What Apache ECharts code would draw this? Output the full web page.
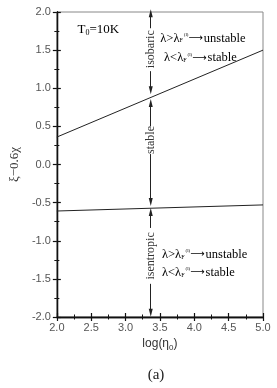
<!DOCTYPE html>
<html>
<head>
<meta charset="utf-8">
<script src="https://cdn.jsdelivr.net/npm/echarts@6/dist/echarts.min.js"></script>
<style>
html,body{margin:0;padding:0;background:#fff;}
#c{width:277px;height:388px;}
</style>
</head>
<body>
<div id="c"></div>
<script>
// ---- data ----
var xRange = [2.0, 5.0];
var yRange = [-2.0, 2.0];
var upperLine = [[2.0, 0.36], [5.0, 1.50]];
var lowerLine = [[2.0, -0.61], [5.0, -0.53]];
var arrowX = 3.366;
// arrow segments: [from (text-gap end), to (tip)]
var arrowSegments = [
  [1.787, 1.983], [1.224, 0.975],
  [0.504, 0.805], [0.137, -0.493],
  [-0.832, -0.622], [-1.565, -1.944]
];
var regionLabels = [['isobaric', 1.512], ['stable', 0.321], ['isentropic', -1.199]];
var lambdaLabels = [
  [3.505, 1.656, '>', 'unstable'],
  [3.56, 1.394, '<', 'stable'],
  [3.53, -1.185, '>', 'unstable'],
  [3.53, -1.42, '<', 'stable']
];
var tempLabel = [2.3, 1.77];

var chart = echarts.init(document.getElementById('c'));
var serif = '"Liberation Serif", "DejaVu Serif", serif';
var sans = '"Liberation Sans", Arial, sans-serif';

function axisCommon(inside, showLabel) {
  return {
    axisLine: {show: true, onZero: false, lineStyle: {color: '#111', width: 1.3}},
    axisTick: {show: true, inside: inside, length: 4, lineStyle: {color: '#111', width: 1.2}},
    minorTick: {show: true, splitNumber: 2, length: 2.5, lineStyle: {color: '#111', width: 1}},
    splitLine: {show: false},
    axisLabel: {show: showLabel}
  };
}

var xA0 = Object.assign(axisCommon(false, true), {
  type: 'value', min: xRange[0], max: xRange[1], interval: 0.5, position: 'bottom',
  name: '{m|log(η}{s|0}{m|)}', nameLocation: 'middle', nameGap: 19,
  nameTextStyle: {fontFamily: sans, fontSize: 12, color: '#333',
    rich: {m: {fontSize: 12, fontFamily: sans, color: '#333'},
           s: {fontSize: 8, fontFamily: sans, color: '#333', padding: [7,0,0,0]}}}
});
xA0.axisLabel = {show: true, formatter: function(v){return v.toFixed(1);}, fontFamily: sans, fontSize: 11, color: '#555', margin: 5};
var xA1 = Object.assign(axisCommon(true, false), {
  type: 'value', min: xRange[0], max: xRange[1], interval: 0.5, position: 'bottom'
});
var yA0 = Object.assign(axisCommon(false, true), {
  type: 'value', min: yRange[0], max: yRange[1], interval: 0.5, position: 'left',
  name: 'ξ−0.6χ', nameLocation: 'middle', nameGap: 31,
  nameTextStyle: {fontFamily: serif, fontSize: 13, color: '#333'}
});
yA0.axisLabel = {show: true, formatter: function(v){return v.toFixed(1);}, fontFamily: sans, fontSize: 11, color: '#555', margin: 6};
var yA1 = Object.assign(axisCommon(true, false), {
  type: 'value', min: yRange[0], max: yRange[1], interval: 0.5, position: 'left'
});

var markData = arrowSegments.map(function(s){
  return [{coord: [arrowX, s[0]], symbol: 'none'}, {coord: [arrowX, s[1]], symbol: 'triangle'}];
});

chart.setOption({
  animation: false,
  grid: {left: 52, right: 14, top: 12, bottom: 71, show: true, borderColor: '#888', borderWidth: 1, backgroundColor: 'transparent'},
  xAxis: [xA0, xA1],
  yAxis: [yA0, yA1],
  series: [
    {type: 'line', data: upperLine, showSymbol: false, symbol: 'none', lineStyle: {color: '#222', width: 1}, silent: true,
     markLine: {silent: true, symbol: ['none', 'triangle'], symbolSize: [4, 8], label: {show: false},
       lineStyle: {color: '#222', width: 1, type: 'solid'}, data: markData}},
    {type: 'line', data: lowerLine, showSymbol: false, symbol: 'none', lineStyle: {color: '#222', width: 1}, silent: true}
  ]
});

// text annotations positioned through the chart's own scales
var graphics = [];
regionLabels.forEach(function(r){
  var p = chart.convertToPixel({xAxisIndex: 0, yAxisIndex: 0}, [arrowX, r[1]]);
  graphics.push({type: 'text', x: p[0], y: p[1], rotation: Math.PI/2,
    style: {text: r[0], fontFamily: serif, fontSize: 12, fill: '#333', align: 'center', verticalAlign: 'middle'}});
});
var rich = {
  m: {fontFamily: serif, fontSize: 12.5, color: '#222'},
  sb: {fontFamily: serif, fontSize: 6, color: '#222', padding: [5,0,0,0]},
  sp: {fontFamily: serif, fontSize: 5, color: '#222', padding: [0,0,8,1]},
  ar: {fontFamily: '"DejaVu Sans", sans-serif', fontSize: 10, color: '#222', padding: [0,1,0,0]}
};
lambdaLabels.forEach(function(l){
  var p = chart.convertToPixel({xAxisIndex: 0, yAxisIndex: 0}, [l[0], l[1]]);
  graphics.push({type: 'text', x: p[0], y: p[1],
    style: {text: '{m|λ' + l[2] + 'λ}{sb|F}{sp|(l)}{ar|⟶}{m|' + l[3] + '}', rich: rich, align: 'left', verticalAlign: 'middle'}});
});
var tp = chart.convertToPixel({xAxisIndex: 0, yAxisIndex: 0}, tempLabel);
graphics.push({type: 'text', x: tp[0], y: tp[1],
  style: {text: '{m|T}{s|0}{m|=10K}', align: 'left', verticalAlign: 'middle',
    rich: {m: {fontFamily: serif, fontSize: 13, color: '#222'}, s: {fontFamily: serif, fontSize: 8, color: '#222', padding: [7,0,0,0]}}}});
graphics.push({type: 'text', x: 156, y: 375,
  style: {text: '(a)', fontFamily: serif, fontSize: 15, fill: '#222', align: 'center', verticalAlign: 'middle'}});
chart.setOption({graphic: graphics});
</script>
</body>
</html>
